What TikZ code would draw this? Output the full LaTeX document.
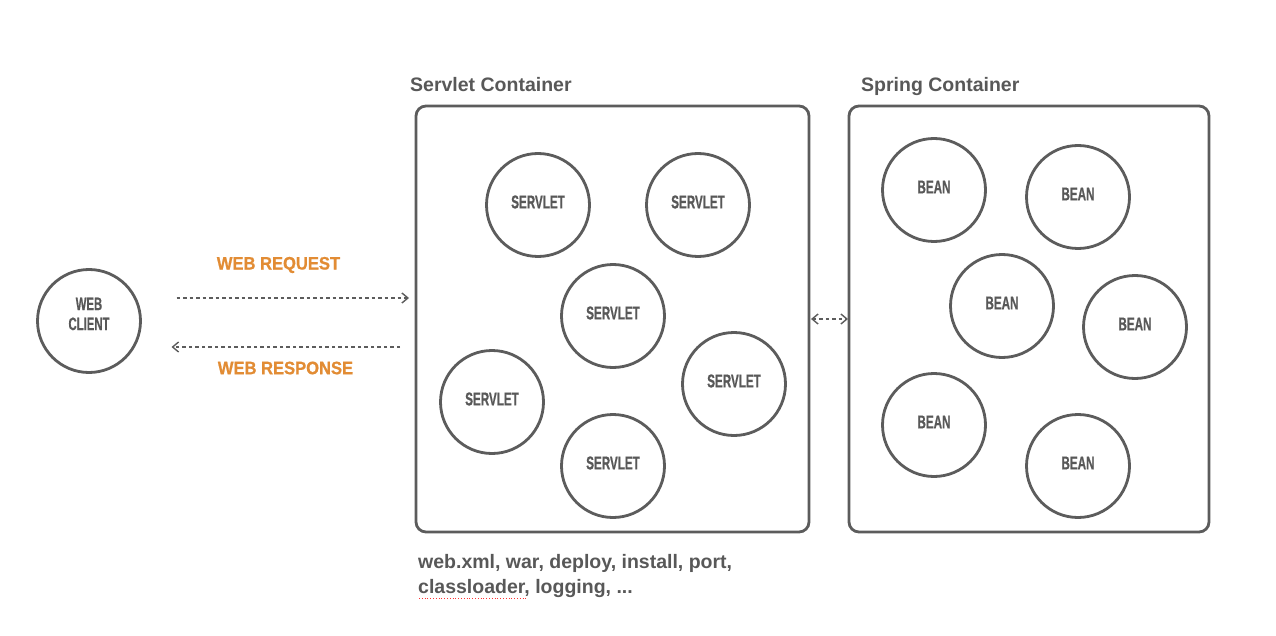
\documentclass[tikz,border=0pt]{standalone}
\usepackage{fontspec}
\setmainfont{Liberation Sans}
\newfontfamily\condfont{Liberation Sans}[FakeStretch=0.63,FakeBold=0.6]
\newfontfamily\widefont{Liberation Sans}[FakeStretch=0.92,FakeBold=0.8]
\usetikzlibrary{arrows.meta}
\definecolor{linegray}{RGB}{92,92,92}
\definecolor{textgray}{RGB}{88,88,88}
\definecolor{reqorange}{RGB}{226,140,52}
\begin{document}
\begin{tikzpicture}[x=1pt,y=-1pt,
  ball/.style={circle,draw=linegray,line width=2.8pt,minimum size=103pt,inner sep=0pt,outer sep=0pt},
  balltext/.style={font=\condfont\bfseries\fontsize{18.5}{20}\selectfont,text=textgray},
  box/.style={rectangle,draw=linegray,line width=2.8pt,rounded corners=10pt,outer sep=0pt,inner sep=0pt},
  title/.style={font=\bfseries\fontsize{19.5}{25}\selectfont,text=textgray,inner sep=0pt},
  flow/.style={draw=linegray,line width=1.5pt,dash pattern=on 3.5pt off 3pt,-{Straight Barb[length=6pt,width=10pt,line width=1.4pt]}},
  orange/.style={font=\widefont\bfseries\fontsize{18}{20}\selectfont,text=reqorange,inner sep=0pt}
]
\useasboundingbox[fill=white] (0,0) rectangle (1276,636);

% containers
\node[box,minimum width=393pt,minimum height=426pt] (servlet) at (612.5,319) {};
\node[box,minimum width=360pt,minimum height=426pt] (spring) at (1029,319) {};
\node[title,anchor=base west] (servlettitle) at (410,92) {Servlet Container};
\node[title,anchor=base west] (springtitle) at (861,92) {Spring Container};

% web client
\node[ball] (client) at (89,321) {};
\node[balltext,align=center,font=\condfont\bfseries\fontsize{18}{20}\selectfont] (clienttext) at (89,314) {WEB\\CLIENT};

% servlets
\foreach \n/\x/\y in {s1/538/205, s2/698/205, s3/613/316, s4/492/402, s5/734/384, s6/613/466}{
  \node[ball,label={[balltext,yshift=3pt]center:SERVLET}] (\n) at (\x,\y) {};
}
% beans
\foreach \n/\x/\y in {b1/934/190, b2/1078/197, b3/1002/306, b4/1135/327, b5/934/425, b6/1078/466}{
  \node[ball,label={[balltext,yshift=3pt]center:BEAN}] (\n) at (\x,\y) {};
}

% request / response
\coordinate (reqA) at ([xshift=36pt,yshift=23pt]client.east);
\draw[flow,shorten >=7pt] (reqA) -- (reqA -| servlet.west);
\coordinate (resA) at ([xshift=31pt,yshift=-26pt]client.east);
\draw[flow,shorten <=16pt] (resA -| servlet.west) -- (resA);
\node[orange] (reqlabel) at (278.5,265) {WEB REQUEST};
\node[orange] (reslabel) at (285.5,368) {WEB RESPONSE};

% servlet <-> spring
\draw[flow,{Straight Barb[length=6pt,width=10pt,line width=1.4pt]}-{Straight Barb[length=6pt,width=10pt,line width=1.4pt]},shorten <=2pt,shorten >=1pt] (servlet.east) -- (spring.west);

% footnote text
\node[title,anchor=base west,align=left] (notes) at (418,593) {web.xml, war, deploy, install, port,\\classloader, logging, ...};
\draw[red!80,line width=0.8pt,dotted] (419,598) -- (526,598);
\end{tikzpicture}
\end{document}
